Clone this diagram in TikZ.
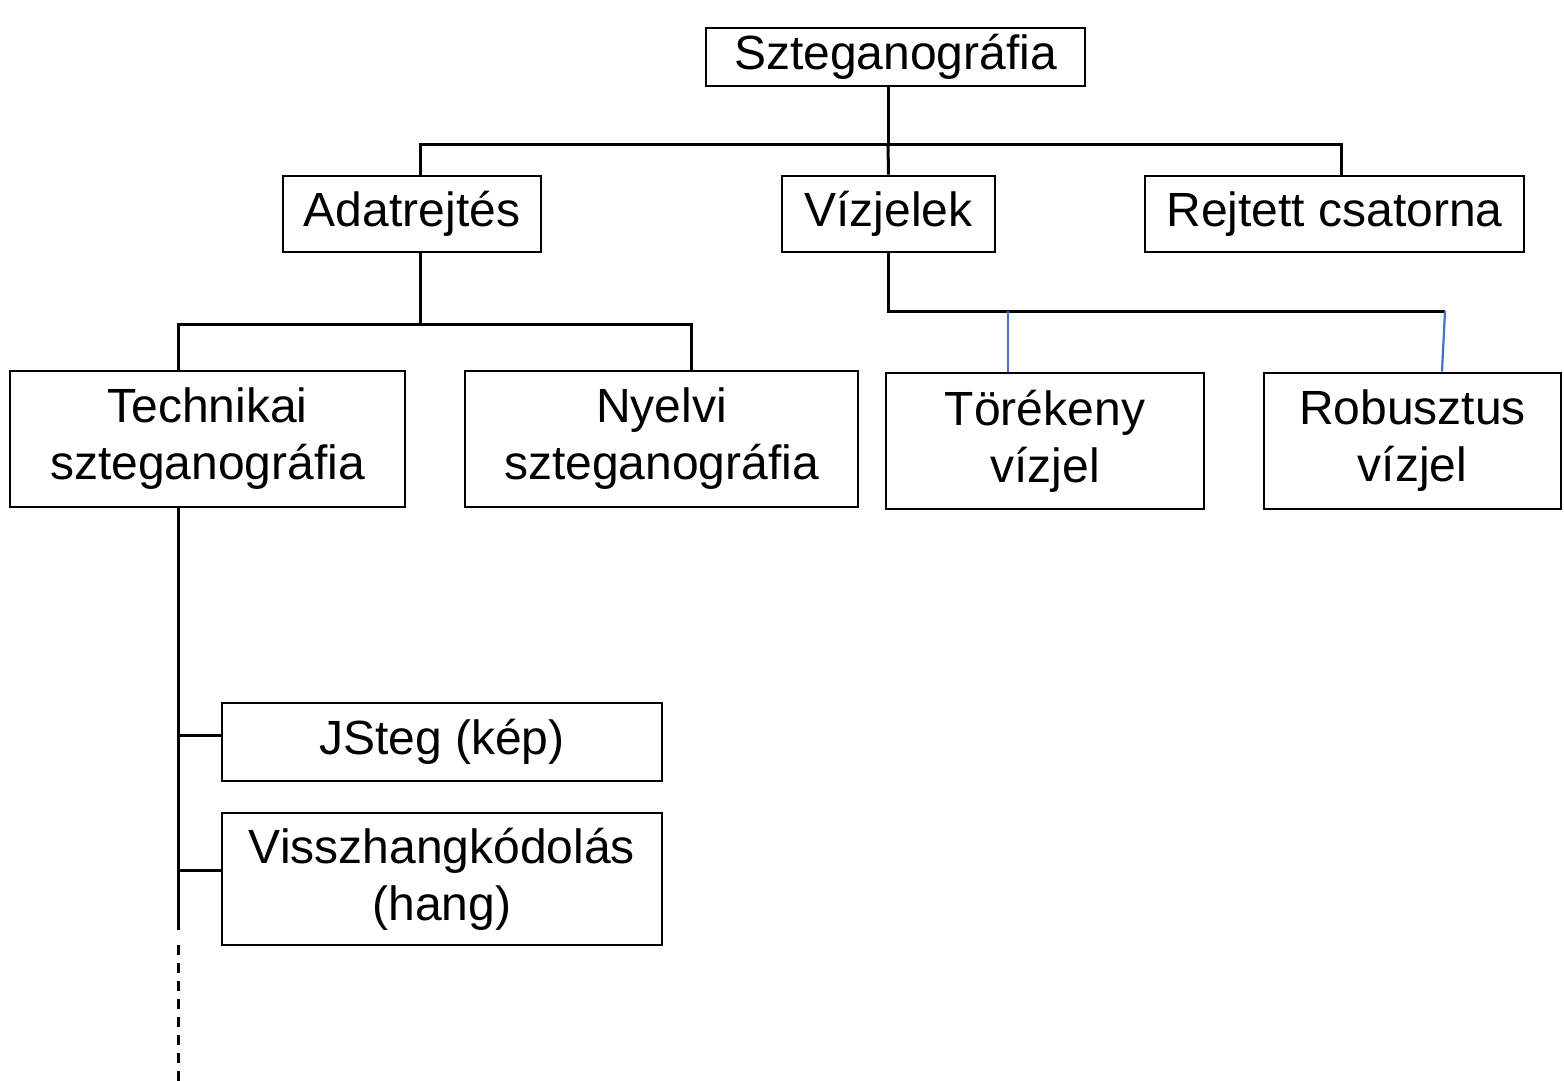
\documentclass[tikz,border=0pt]{standalone}
\usepackage{fontspec}
\setmainfont{Liberation Sans}
\begin{document}
\begin{tikzpicture}[x=1pt,y=-1pt,
  box/.style={draw=black,line width=2.8pt,fill=white,inner sep=0pt,align=center,
    font=\fontsize{48}{57}\selectfont},
  link/.style={draw=black,line width=3pt},
  bluelink/.style={draw={rgb,255:red,68;green,114;blue,196},line width=2.2pt}]
\useasboundingbox (0,0) rectangle (1564,1081);

% level 0
\node[box,minimum width=379pt,minimum height=58pt] (szteg) at (895.5,57) {Szteganográfia};

% level 1
\node[box,minimum width=258pt,minimum height=76pt] (adat) at (412,214) {Adatrejtés};
\node[box,minimum width=213pt,minimum height=76pt] (viz) at (888.5,214) {Vízjelek};
\node[box,minimum width=379pt,minimum height=76pt] (rejt) at (1334.5,214) {Rejtett csatorna};

% level 2
\node[box,minimum width=395pt,minimum height=136pt] (tech) at (207.5,439) {Technikai\\szteganográfia};
\node[box,minimum width=393pt,minimum height=136pt] (nyelv) at (661.5,439) {Nyelvi\\szteganográfia};
\node[box,minimum width=318pt,minimum height=136pt] (torek) at (1045,441) {Törékeny\\vízjel};
\node[box,minimum width=297pt,minimum height=136pt] (robu) at (1412.5,441) {Robusztus\\vízjel};

% level 3
\node[box,minimum width=440pt,minimum height=78pt] (jsteg) at (442,742) {JSteg (kép)};
\node[box,minimum width=440pt,minimum height=132pt] (vissz) at (442,879) {Visszhangkódolás\\(hang)};

% junction points
\coordinate (busA) at (888,144);
\coordinate (busB) at (420,324);
\coordinate (busC) at (1445,311);
\coordinate (trunkEnd) at (178,930);
\coordinate (dashFrom) at (178,945);
\coordinate (dashTo) at (178,1081);

% connectors from the root
\draw[link] (busA |- szteg.south) -- (busA);
\draw[link] ([xshift=8pt]adat.north) |- (busA) -| ([xshift=6.5pt]rejt.north);
\draw[link] (busA) -- (viz.north);

% connectors under Adatrejtés
\draw[link] ([xshift=8pt]adat.south) -- (busB);
\draw[link] ([xshift=-29.5pt]tech.north) |- (busB) -| ([xshift=29.5pt]nyelv.north);

% connectors under Vízjelek
\draw[link] (viz.south) |- (busC);
\draw[bluelink] (busC -| torek.north) ++(-37pt,0) -- ([xshift=-37pt]torek.north);
\draw[bluelink] (busC) -- ([xshift=29.5pt]robu.north);

% trunk under Technikai szteganográfia
\draw[link] ([xshift=-29.5pt]tech.south) -- (trunkEnd);
\draw[link,dash pattern=on 10pt off 8pt] (dashFrom) -- (dashTo);
\draw[link] ([yshift=7pt]jsteg.west) -- ([yshift=7pt]jsteg.west -| trunkEnd);
\draw[link] ([yshift=9pt]vissz.west) -- ([yshift=9pt]vissz.west -| trunkEnd);
\end{tikzpicture}
\end{document}
